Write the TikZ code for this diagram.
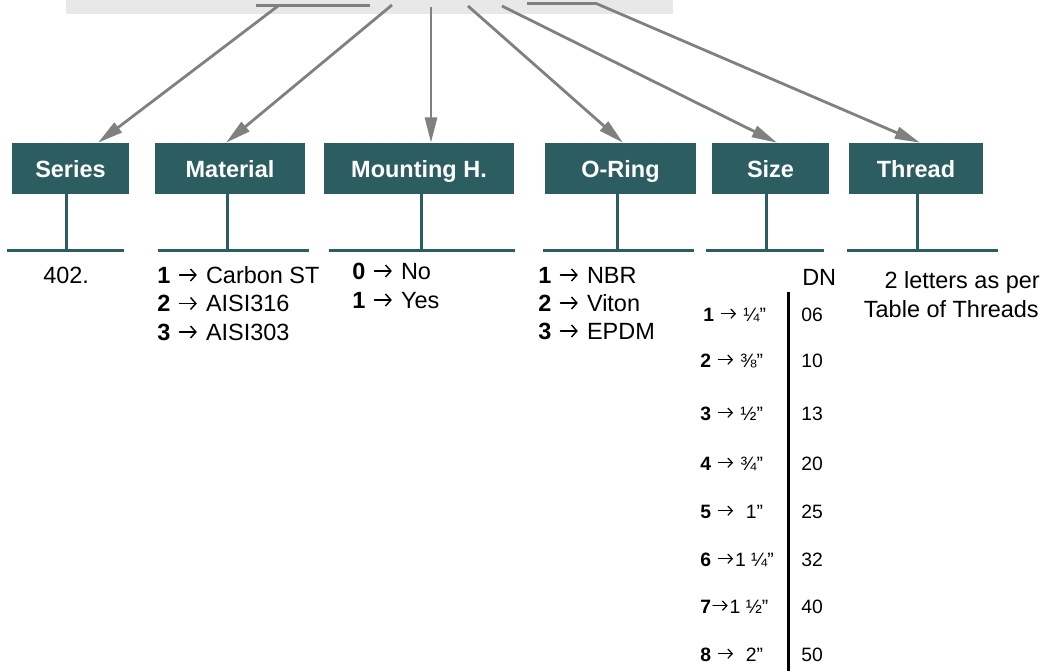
\documentclass[tikz,border=0pt]{standalone}
\usepackage{fontspec}
\setmainfont{Liberation Sans}
\usetikzlibrary{arrows.meta}
\definecolor{tealbox}{RGB}{44,94,97}
\definecolor{arrowgray}{RGB}{128,128,128}
\definecolor{bargray}{RGB}{232,232,232}
\newcommand\myarr{\tikz[baseline=0pt,x=1pt,y=1pt]{\useasboundingbox (0,0) rectangle (17,1);
  \draw[line width=1.1pt,line cap=round,-{Straight Barb[length=4pt,width=9pt,line width=1.1pt]}] (2,6) -- (15,6);}}
\newcommand\myarrs{\tikz[baseline=0pt,x=1pt,y=1pt]{\useasboundingbox (0,0) rectangle (14,1);
  \draw[line width=0.9pt,line cap=round,-{Straight Barb[length=3.3pt,width=7pt,line width=0.9pt]}] (1.5,5.5) -- (12.5,5.5);}}
\begin{document}
\begin{tikzpicture}[x=0.75pt,y=-0.75pt,
  box/.style={fill=tealbox, text=white, font=\fontsize{17.6}{20}\selectfont\bfseries, inner sep=0pt,
    minimum height=38.25pt, text height=12.8pt, text depth=0pt},
  stem/.style={draw=tealbox, line width=2.25pt},
  ptr/.style={draw=arrowgray, line width=2.1pt, -{Triangle[length=19pt,width=9pt]}},
  barline/.style={draw=arrowgray, line width=2.25pt},
  body/.style={font=\fontsize{17.6}{21}\selectfont, inner sep=0pt, anchor=base west},
  bodyr/.style={font=\fontsize{17.6}{21}\selectfont, inner sep=0pt, anchor=base east},
  tbl/.style={font=\fontsize{14.5}{17}\selectfont, inner sep=0pt, anchor=base west},
  tabline/.style={draw=black, line width=2.25pt}]
\useasboundingbox (0,0) rectangle (1051,671);
% top grey bar
\fill[bargray] (66,0) rectangle (673,14);
\coordinate (g1a) at (256,5); \coordinate (g1b) at (370,5);
\coordinate (g2a) at (527,3); \coordinate (g2b) at (595,3);
\draw[barline] (g1a) -- (g1b);
\draw[barline] (g2a) -- (g2b);
% boxes
\node[box, minimum width=87.75pt]  (series)   at (70.5,168.5) {Series};
\node[box, minimum width=112.5pt]  (material) at (230,168.5)  {Material};
\node[box, minimum width=142.5pt]  (mount)    at (419,168.5)  {Mounting H.};
\node[box, minimum width=113.25pt] (oring)    at (620.5,168.5){O-Ring};
\node[box, minimum width=87.75pt]  (size)     at (770.5,168.5){Size};
\node[box, minimum width=100.5pt]  (thread)   at (916,168.5)  {Thread};
% arrows
\coordinate (a1) at (278,6);  \coordinate (t1) at (98,0);
\coordinate (a2) at (392,5);  \coordinate (t2) at (226,0);
\coordinate (a3) at (431,7);  \coordinate (t3) at (431,0);
\coordinate (a4) at (468,6);  \coordinate (t4) at (623,0);
\coordinate (a5) at (502,6);  \coordinate (t5) at (777,0);
\coordinate (a6) at (595,3);  \coordinate (t6) at (920,0);
\draw[ptr] (a1) -- (series.north -| t1);
\draw[ptr] (a2) -- (material.north -| t2);
\draw[ptr] (a3) -- (mount.north -| t3);
\draw[ptr] (a4) -- (oring.north -| t4);
\draw[ptr] (a5) -- (size.north -| t5);
\draw[ptr] (a6) -- (thread.north -| t6);
% stems and base lines
\coordinate (b1) at (66,250);  \coordinate (l1a) at (7,250);   \coordinate (l1b) at (124,250);
\coordinate (b2) at (227,250); \coordinate (l2a) at (158,250); \coordinate (l2b) at (309,250);
\coordinate (b3) at (421,250); \coordinate (l3a) at (329,250); \coordinate (l3b) at (515,250);
\coordinate (b4) at (617,250); \coordinate (l4a) at (543,250); \coordinate (l4b) at (694,250);
\coordinate (b5) at (766,250); \coordinate (l5a) at (706,250); \coordinate (l5b) at (824,250);
\coordinate (b6) at (917,250); \coordinate (l6a) at (847,250); \coordinate (l6b) at (998,250);
\draw[stem] (series.south -| b1) -- (b1);
\draw[stem] (material.south -| b2) -- (b2);
\draw[stem] (mount.south -| b3) -- (b3);
\draw[stem] (oring.south -| b4) -- (b4);
\draw[stem] (size.south -| b5) -- (b5);
\draw[stem] (thread.south -| b6) -- (b6);
\draw[stem] (l1a) -- (l1b);
\draw[stem] (l2a) -- (l2b);
\draw[stem] (l3a) -- (l3b);
\draw[stem] (l4a) -- (l4b);
\draw[stem] (l5a) -- (l5b);
\draw[stem] (l6a) -- (l6b);
% texts
\node[body] (sv) at (43,283) {402.};
\node[body] (m1) at (157,283) {\textbf{1} \myarr{} Carbon ST};
\node[body] (m2) at (157,311.5) {\textbf{2} \myarr{} AISI316};
\node[body] (m3) at (157,340) {\textbf{3} \myarr{} AISI303};
\node[body] (h0) at (352,279) {\textbf{0} \myarr{} No};
\node[body] (h1) at (352,308) {\textbf{1} \myarr{} Yes};
\node[body] (o1) at (538,283) {\textbf{1} \myarr{} NBR};
\node[body] (o2) at (538,311) {\textbf{2} \myarr{} Viton};
\node[body] (o3) at (538,339) {\textbf{3} \myarr{} EPDM};
\node[body] (dn) at (802,285) {DN};
\node[bodyr] (th1) at (1040,288) {2 letters as per};
\node[bodyr] (th2) at (1039,317) {Table of Threads};
% size table
\coordinate (vt) at (788,292); \coordinate (vb) at (788,671);
\draw[tabline] (vt) -- (vb);
\node[tbl] (s1) at (703,321) {\textbf{1} \myarrs{} ¼”};
\node[tbl] (s2) at (700,367) {\textbf{2} \myarrs{} ⅜”};
\node[tbl] (s3) at (700,420) {\textbf{3} \myarrs{} ½”};
\node[tbl] (s4) at (700,470) {\textbf{4} \myarrs{} ¾”};
\node[tbl] (s5) at (700,518) {\textbf{5} \myarrs{} \ 1”};
\node[tbl] (s6) at (700,566) {\textbf{6} \myarrs{}1 ¼”};
\node[tbl] (s7) at (700,613) {\textbf{7}\myarrs{}1 ½”};
\node[tbl] (s8) at (700,661) {\textbf{8} \myarrs{} \ 2”};
\node[tbl] (d1) at (801,321) {06};
\node[tbl] (d2) at (801,367) {10};
\node[tbl] (d3) at (801,420) {13};
\node[tbl] (d4) at (801,470) {20};
\node[tbl] (d5) at (801,518) {25};
\node[tbl] (d6) at (801,566) {32};
\node[tbl] (d7) at (801,613) {40};
\node[tbl] (d8) at (801,661) {50};
\end{tikzpicture}
\end{document}
